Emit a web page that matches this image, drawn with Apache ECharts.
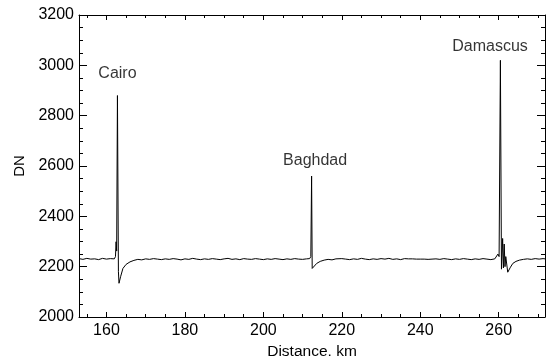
<!DOCTYPE html>
<html>
<head>
<meta charset="utf-8">
<script src="https://cdn.jsdelivr.net/npm/echarts@6/dist/echarts.min.js"></script>
<style>
  html, body { margin: 0; padding: 0; background: #fff; }
  #chart { width: 546px; height: 356px; }
</style>
</head>
<body>
<div id="chart"></div>
<script>
// Profile along the track (distance in km, DN)
const distance = [
  153, 154, 155, 156, 157, 158, 159, 160, 161, 162,
  162.3, 162.45, 162.6, 162.8, 163.05, 163.2, 163.6, 164.2, 165, 166, 167,
  168, 169, 170, 171, 172, 173, 174, 175, 176, 177, 178, 179, 180,
  181, 182, 183, 184, 185, 186, 187, 188, 189, 190, 191, 192, 193,
  194, 195, 196, 197, 198, 199, 200, 201, 202, 203, 204, 205, 206,
  207, 208, 209, 210, 211, 211.8, 212.1, 212.3, 212.45, 212.8, 213.6,
  214.5, 215.5, 216.5, 217.5, 218.5,
  219, 220, 221, 222, 223, 224, 225, 226, 227, 228, 229, 230, 231,
  232, 233, 234, 235, 236, 237, 238, 239, 240, 241, 242, 243, 244,
  245, 246, 247, 248, 249, 250, 251, 252, 253, 254, 255, 256, 257,
  258, 259, 259.8, 260.1, 260.43, 260.7, 261.0, 261.2, 261.4, 261.6,
  261.8, 262.3, 263, 263.6, 264.4, 265.3, 266.3, 267.3, 268.3, 269.3,
  270.3, 271.3, 271.8
];
const dn = [
  2232, 2229, 2233, 2230, 2231, 2228, 2233, 2230, 2232, 2231,
  2240, 2299, 2262, 2880, 2180, 2134, 2160, 2193, 2209, 2219, 2225,
  2229, 2227, 2231, 2229, 2232, 2230, 2228, 2231, 2229, 2232, 2230, 2227, 2231,
  2229, 2233, 2230, 2228, 2231, 2229, 2232, 2230, 2228, 2231, 2233, 2229, 2231,
  2228, 2232, 2230, 2229, 2232, 2230, 2228, 2231, 2229, 2232, 2230, 2228, 2231,
  2229, 2232, 2230, 2229, 2231, 2232, 2240, 2560, 2193, 2200, 2213,
  2221, 2226, 2229, 2227, 2231,
  2229, 2232, 2230, 2228, 2231, 2229, 2233, 2230, 2228, 2231, 2229, 2232, 2230,
  2233, 2229, 2231, 2228, 2232, 2231, 2231, 2230, 2230, 2230, 2229, 2230, 2231,
  2229, 2232, 2230, 2228, 2231, 2229, 2232, 2230, 2228, 2231, 2229, 2232, 2230,
  2228, 2231, 2250, 2240, 3020, 2190, 2312, 2195, 2290, 2200,
  2240, 2178, 2198, 2213, 2221, 2226, 2229, 2231, 2229, 2232,
  2230, 2232, 2231
];

// City annotations
const cityNames = ['Cairo', 'Baghdad', 'Damascus'];
const cityDistance = [162.8, 213.2, 257.8];
const cityDN = [2967, 2620, 3075];

// Tick values
const xMajorTicks = [160, 180, 200, 220, 240, 260];
const xMinorTicks = [155, 165, 170, 175, 185, 190, 195, 205, 210, 215, 225, 230, 235, 245, 250, 255, 265, 270];

const FONT = '"Liberation Sans", Arial, Helvetica, sans-serif';

const chart = echarts.init(document.getElementById('chart'));

const lineData = distance.map(function(d, i) { return [d, dn[i]]; });
const labelData = cityNames.map(function(name, i) { return [cityDistance[i], cityDN[i], name]; });

function xAxisBase(position, ticks, len, showLine) {
  return {
    type: 'value',
    gridIndex: 0,
    position: position,
    offset: 0,
    min: 153,
    max: 271.8,
    axisLine: { show: showLine, onZero: false, lineStyle: { color: '#000', width: 1 } },
    axisTick: { show: true, inside: true, length: len, customValues: ticks, lineStyle: { color: '#000', width: 1 } },
    axisLabel: { show: false },
    splitLine: { show: false }
  };
}

const bottomMajor = xAxisBase('bottom', xMajorTicks, 5, true);
bottomMajor.axisLabel = {
  show: true,
  customValues: xMajorTicks,
  formatter: function(v) { return String(v); },
  color: '#000',
  fontSize: 16,
  fontFamily: FONT,
  margin: 6
};
bottomMajor.name = 'Distance, km';
bottomMajor.nameLocation = 'middle';
bottomMajor.nameGap = 24;
bottomMajor.nameTextStyle = { color: '#000', fontSize: 15.5, fontFamily: FONT };

function yAxisBase(position) {
  return {
    type: 'value',
    gridIndex: 0,
    position: position,
    min: 2000,
    max: 3200,
    interval: 200,
    axisLine: { show: true, onZero: false, lineStyle: { color: '#000', width: 1 } },
    axisTick: { show: true, inside: true, length: 8, lineStyle: { color: '#000', width: 1 } },
    minorTick: { show: true, splitNumber: 4, length: 4, lineStyle: { color: '#000', width: 1 } },
    axisLabel: { show: false },
    splitLine: { show: false },
    minorSplitLine: { show: false }
  };
}

const leftAxis = yAxisBase('left');
leftAxis.axisLabel = {
  show: true,
  formatter: function(v) { return String(v); },
  color: '#000',
  fontSize: 16,
  fontFamily: FONT,
  margin: 5
};
leftAxis.name = 'DN';
leftAxis.nameLocation = 'middle';
leftAxis.nameGap = 51;
leftAxis.nameRotate = 90;
leftAxis.nameTextStyle = { color: '#000', fontSize: 15, fontFamily: FONT };

const option = {
  animation: false,
  backgroundColor: '#fff',
  grid: {
    left: 79,
    right: 1,
    top: 15,
    bottom: 39,
    containLabel: false,
    outerBoundsMode: 'none'
  },
  xAxis: [
    bottomMajor,
    xAxisBase('bottom', xMinorTicks, 3, false),
    xAxisBase('top', xMajorTicks, 5, true),
    xAxisBase('top', xMinorTicks, 3, false)
  ],
  yAxis: [
    leftAxis,
    yAxisBase('right')
  ],
  series: [
    {
      name: 'DN',
      type: 'line',
      xAxisIndex: 0,
      yAxisIndex: 0,
      data: lineData,
      showSymbol: false,
      symbol: 'none',
      lineStyle: { color: '#000', width: 1 },
      z: 3
    },
    {
      name: 'cities',
      type: 'scatter',
      xAxisIndex: 0,
      yAxisIndex: 0,
      data: labelData,
      symbolSize: 0,
      silent: true,
      label: {
        show: true,
        position: 'inside',
        formatter: function(p) { return p.value[2]; },
        color: '#000',
        fontSize: 16,
        fontFamily: FONT
      },
      z: 4
    }
  ]
};

chart.setOption(option);
</script>
</body>
</html>
